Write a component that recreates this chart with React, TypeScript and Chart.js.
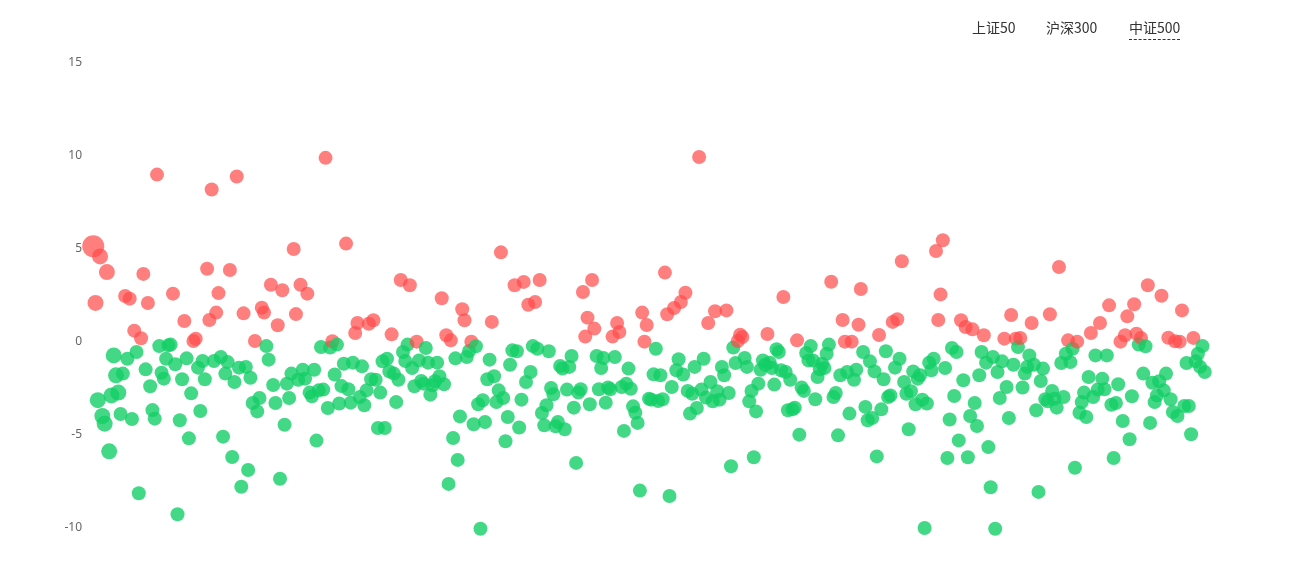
import React, { useEffect, useRef } from "react";
import { Chart, registerables } from "chart.js";

Chart.register(...registerables);

const tabs = ["上证50", "沪深300", "中证500"];
const activeTab = "中证500";
const yTicks = [-10, -5, 0, 5, 10, 15];

// 涨跌幅 (%) per constituent, left to right
const changes: number[] = [
  5.15, 2.1, -3.13, 4.6, -3.98, -4.39, 3.76, -5.88, -2.87, -0.72, -1.79, -2.72, -3.87, -1.7, 2.47, -0.9, 2.33, -4.14, 0.61, -0.54, -8.13, 0.2, 3.66, -1.47, 2.1, -2.38, -3.66, -4.12, 9.0, -0.22, -1.65, -1.97, -0.9, -0.18, -0.14, 2.6, -1.2, -9.26, -4.21, -2.0, 1.13, -0.88, -5.18, -2.76, 0.05, 0.18, -1.38, -3.71, -1.02, -2.0, 3.94, 1.18, 8.2, -1.02, 1.58, 2.63, -0.81, -5.09, -1.7, -1.08, 3.87, -6.18,
  -2.15, 8.9, -1.38, -7.78, 1.54, -1.34, -6.88, -1.92, -3.28, 0.05, -3.73, -3.01, 1.84, 1.58, -0.22, -0.95, 3.08, -2.31, -3.28, 0.9, -7.35, 2.78, -4.45, -2.24, -3.01, -1.7, 5.0, 1.5, -2.03, 3.08, -1.49, -1.97, 2.6, -2.72, -2.92, -1.49, -5.3, -2.6, -0.27, -2.56, 9.9, -3.55, -0.3, 0.04, -1.75, -0.14, -3.31, -2.37, -1.17, 5.29, -2.54, -3.26, -1.11, 0.48, 1.02, -2.96, -1.31, -3.4, -2.6, 0.98, -2.0, 1.17,
  -2.03, -4.62, -2.72, -1.04, -4.62, -0.9, -1.58, 0.41, -1.7, -3.23, -2.03, 3.33, -0.54, -1.02, -0.14, 3.05, -1.4, -2.38, 0.02, -0.99, -2.1, -2.24, -0.32, -1.11, -2.83, -2.33, -2.11, -1.11, -1.84, 2.35, -2.27, 0.36, -7.63, 0.09, -5.16, -0.88, -6.34, -4.0, 1.76, 1.17, -0.81, -0.48, 0.02, -4.42, -0.23, -3.35, -10.04, -3.13, -4.3, -2.0, -0.95, 1.08, -1.84, -3.23, -2.6, 4.82, -3.01, -5.34, -4.03,
  -1.22, -0.45, 3.05, -0.5, -4.6, -3.1, 3.23, -2.15, 2.0, -1.61, -0.22, 2.15, -0.36, 3.33, -3.82, -4.48, -3.4, -0.5, -2.47, -2.81, -4.53, -4.3, -1.29, -1.43, -4.69, -2.56, -1.34, -0.75, -3.53, -6.5, -2.72, -2.54, 2.69, 0.29, 1.31, -3.35, 3.33, 0.72, -0.75, -2.54, -1.4, -0.86, -3.26, -2.45, -2.54, 0.29, -0.81, 1.02, 0.54, -2.42, -4.78, -2.24, -1.43, -2.51, -3.46, -3.8, -4.35, -7.99, 1.58, 0.02, 0.91, -3.05,
  -3.1, -1.74, -0.36, -3.17, -1.79, -3.08, 3.73, 1.49, -8.28, -2.42, 1.83, -1.52, -0.93, 2.15, -1.75, 2.65, -2.63, -3.85, -2.78, -1.34, -3.55, 9.95, -2.56, -0.9, -2.99, 1.02, -2.15, -3.19, 1.65, -2.65, -3.1, -1.34, -1.79, 1.7, -2.74, -6.68, -0.3, -1.13, 0.05, 0.39, 0.27, -0.86, -1.34, -3.19, -2.63, -6.2, -3.73, -2.24, -1.49, -0.99, -1.22, 0.43, -1.11, -1.4, -2.29, -0.39, -0.54, -1.52, 2.42, -1.61, -3.67,
  -2.03, -3.62, -3.53, 0.09, -4.98, -2.45, -2.63, -0.59, -0.99, -0.22, -0.99, -3.08, -1.88, -1.47, -1.17, -1.4, -0.63, -0.14, 3.24, -2.96, -2.74, -5.02, -1.79, 1.18, 0.02, -1.61, -3.85, 0.02, -2.03, -1.49, 0.93, 2.85, -0.54, -3.49, -4.21, -1.04, -4.09, -1.58, -6.15, 0.38, -3.62, -2.0, -0.5, -2.96, -2.87, 1.08, -1.38, 1.22, -0.9, 4.34, -2.15, -2.78, -4.69, -2.65, -1.58, -3.35, -1.97, -1.79, -3.1, -10.0,
  -3.31, -1.11, -1.52, -0.9, 4.89, 1.18, 2.56, 5.47, -1.4, -6.24, -4.17, -0.32, -2.9, -0.54, -5.29, 1.17, -2.06, 0.81, -6.2, -3.98, 0.68, -3.28, -4.52, -1.79, -0.54, 0.36, -1.11, -5.65, -7.81, -0.81, -10.04, -1.61, -3.01, -1.04, 0.18, -2.42, -4.09, 1.45, -1.22, 0.18, -0.27, 0.22, -2.45, -1.7, -1.34, -0.72, 1.02, -1.22, -3.67, -8.06, -2.1, -1.43, -3.08, -3.19, 1.49, -2.63, -3.05, -3.53, 4.03, -1.13, -2.96, -0.63, 0.09,
  -1.08, -0.36, -6.76, 0.02, -3.8, -3.23, -2.72, -4.03, -1.88, 0.48, -2.96, -0.72, -2.56, 1.02, -1.97, -2.54, -0.72, 1.97, -3.37, -6.24, -3.28, -2.27, 0.02, -4.25, 0.36, 1.38, -5.23, -2.92, 2.03, 0.45, -0.14, 0.22, -1.7, -0.23, 3.05, -4.35, -2.19, -3.23, -2.87, -2.11, 2.49, -2.6, -1.7, 0.23, -3.08, -3.76, 0.04, -3.98, 0.02, 1.7, -3.44, -1.13, -3.44, -4.96, 0.22, -1.04, -0.63, -1.34, -0.22, -1.61,
];

const UP_COLOR = "rgba(255, 73, 73, 0.7)";
const DOWN_COLOR = "rgba(19, 206, 102, 0.8)";

export default function App() {
  const canvasRef = useRef<HTMLCanvasElement | null>(null);

  useEffect(() => {
    if (!canvasRef.current) return;
    const n = changes.length;
    const data = changes.map((v, i) => ({ x: i, y: v }));
    const chart = new Chart(canvasRef.current, {
      type: "scatter",
      data: {
        datasets: [
          {
            data,
            pointRadius: (ctx: any) => (ctx.dataIndex === 0 ? 11 : ctx.dataIndex < 12 ? 8 : 7),
            pointHoverRadius: (ctx: any) => (ctx.dataIndex === 0 ? 11 : ctx.dataIndex < 12 ? 8 : 7),
            pointBorderWidth: 0,
            pointBackgroundColor: (ctx: any) => {
              const v = changes[ctx.dataIndex];
              return v >= 0 ? UP_COLOR : DOWN_COLOR;
            },
            clip: false as any,
          },
        ],
      },
      options: {
        responsive: false,
        animation: false,
        events: [],
        layout: { padding: { top: 63, bottom: 47, right: 103, left: 0 } },
        plugins: { legend: { display: false }, tooltip: { enabled: false } },
        scales: {
          x: {
            type: "linear",
            display: false,
            min: -2.3,
            max: n - 1 + 2.3,
          },
          y: {
            min: -10,
            max: 15,
            afterFit: (scale: any) => {
              scale.width = 88;
            },
            ticks: {
              stepSize: 5,
              padding: 6,
              color: "#666",
              font: { size: 12, family: "'Noto Sans', sans-serif" },
              callback: (v: any) => (yTicks.includes(Number(v)) ? String(v) : ""),
            },
            grid: { display: false, drawTicks: false },
            border: { display: false },
          },
        },
      },
    });
    return () => chart.destroy();
  }, []);

  const tabLefts = [972, 1046, 1129];

  return (
    <div style={{ position: "fixed", left: 0, top: 0, width: 1313, height: 575, background: "#fff", overflow: "hidden" }}>
      <canvas ref={canvasRef} width={1313} height={575} style={{ position: "absolute", left: 0, top: 0 }} />
      {tabs.map((t, i) => (
        <span
          key={t}
          style={{
            position: "absolute",
            left: tabLefts[i],
            top: 17,
            fontSize: 14,
            lineHeight: "20px",
            color: "#333",
            fontFamily: "'Noto Sans CJK SC', 'Noto Sans', sans-serif",
            paddingBottom: 2,
            borderBottom: t === activeTab ? "1px dashed #333" : "1px solid transparent",
            cursor: "pointer",
          }}
        >
          {t}
        </span>
      ))}
    </div>
  );
}
